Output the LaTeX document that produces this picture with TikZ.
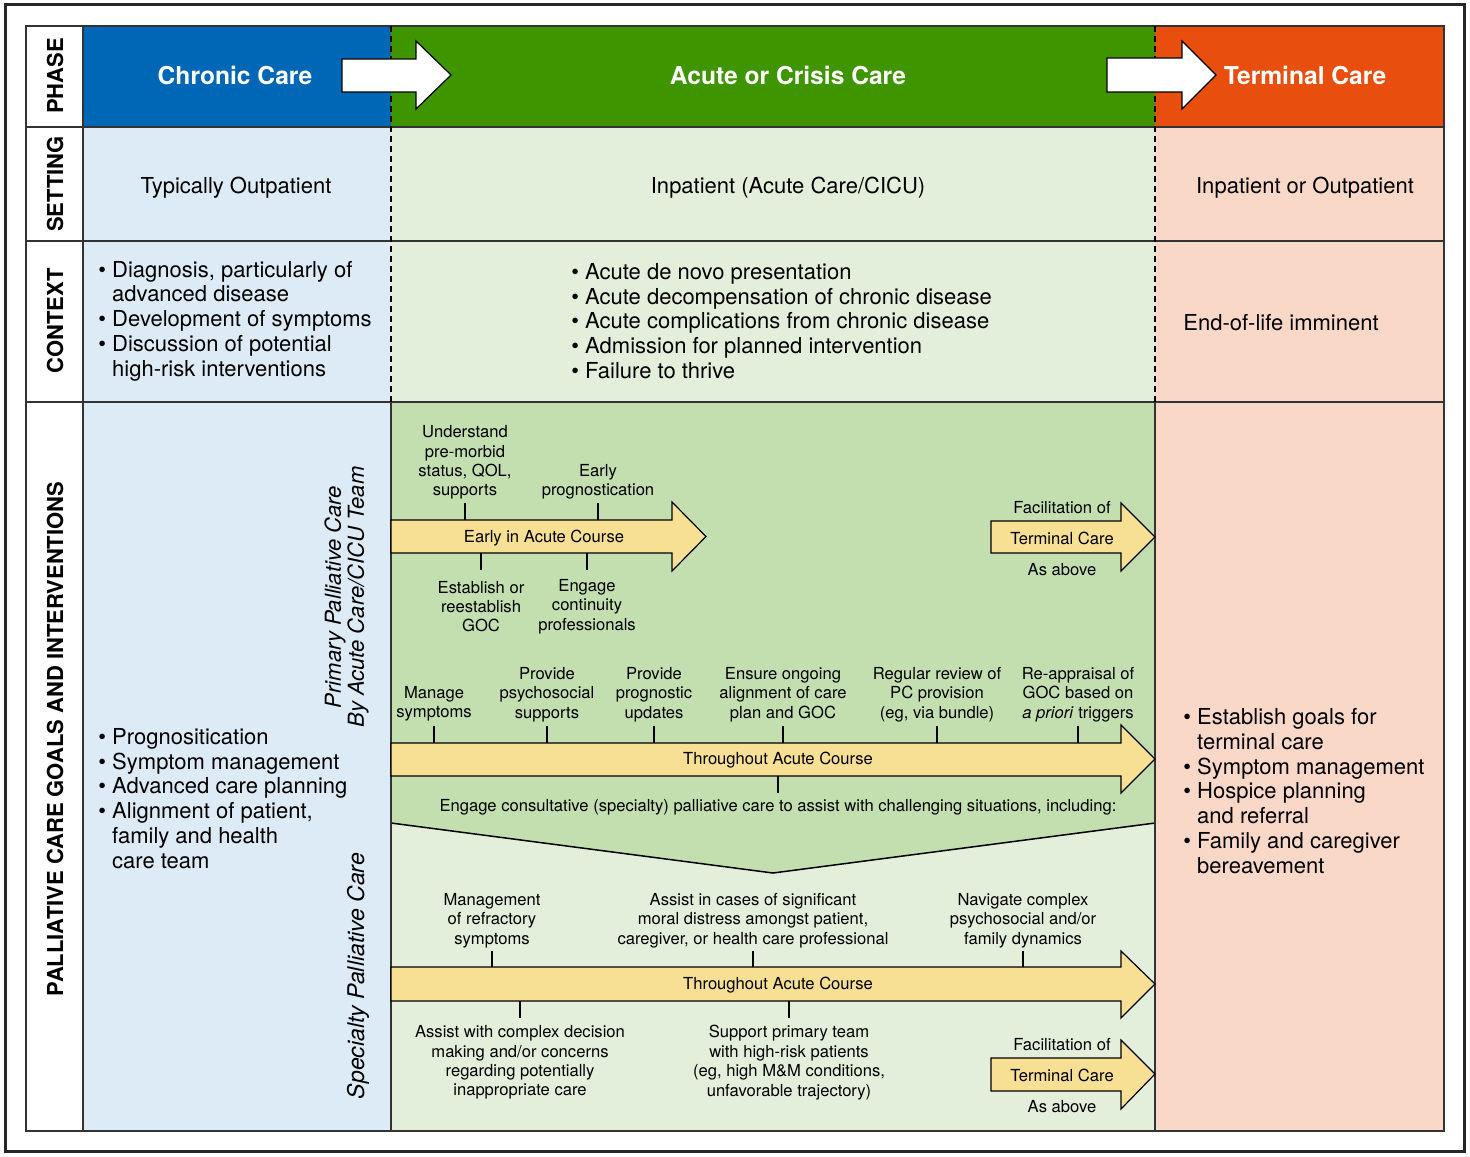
\documentclass[tikz,border=0pt]{standalone}
\usepackage{fontspec}
\setmainfont{TeX Gyre Heros}
\definecolor{cblue}{HTML}{0067B6}
\definecolor{cgreen}{HTML}{3F9500}
\definecolor{corange}{HTML}{E84E0E}
\definecolor{lblue}{HTML}{DDEBF6}
\definecolor{lgreen}{HTML}{E4EFDB}
\definecolor{lpeach}{HTML}{F9D8C8}
\definecolor{mgreen}{HTML}{C3DFB0}
\definecolor{yel}{HTML}{F7DF93}
\definecolor{linec}{HTML}{333333}
\tikzset{
  tbl/.style={draw=linec, line width=0.75pt},
  dsh/.style={draw=black, line width=0.6pt, dash pattern=on 3pt off 2pt},
  frame/.style={draw=black!85, line width=1.5pt},
  vline/.style={draw=black, line width=0.75pt},
  yarrow/.style={fill=yel, draw=black, line width=0.6pt, line join=miter},
  warrow/.style={fill=white, draw=black, line width=0.6pt, line join=miter},
  tick/.style={draw=black, line width=0.6pt},
  small/.style={font=\fontsize{8.3}{9.7}\selectfont, align=center, inner sep=0pt, yshift=-0.75pt},
  body/.style={font=\fontsize{11}{12.4}\selectfont, align=left, inner sep=0pt, anchor=west, yshift=-0.75pt},
  ctext/.style={font=\fontsize{11}{12.4}\selectfont, inner sep=0pt, yshift=-0.75pt},
  phase/.style={font=\fontsize{12.3}{14}\selectfont\bfseries, text=white, inner sep=0pt},
  rowlab/.style={font=\fontsize{11}{12}\selectfont\bfseries, rotate=90, inner sep=0pt},
  teamlab/.style={font=\fontsize{11}{11.5}\selectfont\itshape, rotate=90, align=center, inner sep=0pt}
}
\newcommand{\bul}{\textbullet\ }
\newcommand{\ind}{\phantom{\textbullet\ }}
\begin{document}
\begin{tikzpicture}[x=0.5pt,y=-0.5pt]
\useasboundingbox (0,0) rectangle (1470,1156);
\fill[white] (0,0) rectangle (1470,1156);
% cell fills
\fill[cblue] (83,26) rectangle (391,127);
\fill[cgreen] (391,26) rectangle (1155,127);
\fill[corange] (1155,26) rectangle (1444,127);
\fill[lblue] (83,127) rectangle (391,1131);
\fill[lgreen] (391,127) rectangle (1155,1131);
\fill[lpeach] (1155,127) rectangle (1444,1131);
\fill[mgreen] (391,402) -- (1155,402) -- (1155,823) -- (773,873) -- (391,823) -- cycle;
\draw[vline] (391,823) -- (773,873) -- (1155,823);
% table lines
\draw[tbl] (26,26) rectangle (1444,1131);
\draw[tbl] (83,26) -- (83,1131);
\foreach \yy in {127,241,402} \draw[tbl] (26,\yy) -- (1444,\yy);
\draw[tbl] (391,402) -- (391,1131);
\draw[tbl] (1155,402) -- (1155,1131);
\draw[dsh] (391,26) -- (391,402);
\draw[dsh] (1155,26) -- (1155,402);
\draw[frame] (5,5) rectangle (1464,1151);

% row labels
\node[rowlab] (lphase) at (55,76) {PHASE};
\node[rowlab] (lsetting) at (55,184) {SETTING};
\node[rowlab] (lcontext) at (55,321) {CONTEXT};
\node[rowlab] (linterv) at (55,739) {PALLIATIVE CARE GOALS AND INTERVENTIONS};

% phase row
\draw[warrow] (342,59) -- (416,59) -- (416,41) -- (451,75) -- (416,109) -- (416,92) -- (342,92) -- cycle;
\draw[warrow] (1107,58) -- (1182,58) -- (1182,41) -- (1216,75) -- (1182,109) -- (1182,92) -- (1107,92) -- cycle;
\node[phase] (pchronic) at (235,75) {Chronic Care};
\node[phase] (pacute) at (788,75) {Acute or Crisis Care};
\node[phase] (pterm) at (1305,75) {Terminal Care};

% setting row
\node[ctext] (schronic) at (236,186) {Typically Outpatient};
\node[ctext] (sacute) at (788,186) {Inpatient (Acute Care/CICU)};
\node[ctext] (sterm) at (1305,186) {Inpatient or Outpatient};

% context row
\node[body] (cchronic) at (98,319.5) {\bul Diagnosis, particularly of\\\ind advanced disease\\\bul Development of symptoms\\\bul Discussion of potential\\\ind high-risk interventions};
\node[body] (cacute) at (571,319.5) {\bul Acute de novo presentation\\\bul Acute decompensation of chronic disease\\\bul Acute complications from chronic disease\\\bul Admission for planned intervention\\\bul Failure to thrive};
\node[body] (cterm) at (1183,321) {End-of-life imminent};

% interventions: chronic and terminal
\node[body] (ichronic) at (98,797) {\bul Prognositication\\\bul Symptom management\\\bul Advanced care planning\\\bul Alignment of patient,\\\ind family and health\\\ind care team};
\node[body] (iterm) at (1183,789.5) {\bul Establish goals for\\\ind terminal care\\\bul Symptom management\\\bul Hospice planning\\\ind and referral\\\bul Family and caregiver\\\ind bereavement};

% team labels
\node[teamlab] (tprimary) at (346.5,597) {Primary Palliative Care\\By Acute Care/CICU Team};
\node[teamlab, font=\fontsize{11.5}{11.5}\selectfont\itshape] (tspecial) at (358,976) {Specialty Palliative Care};

% early arrow
\draw[yarrow] (391,520) -- (672,520) -- (672,502) -- (706,536.5) -- (672,571) -- (672,553) -- (391,553) -- cycle;
\node[small] (early) at (544,536.5) {Early in Acute Course};
\node[small] (e1) at (465,461) {Understand\\pre-morbid\\status, QOL,\\supports};
\node[small] (e2) at (598,480.5) {Early\\prognostication};
\node[small] (e3) at (481,605) {Establish or\\reestablish\\GOC};
\node[small] (e4) at (587,605) {Engage\\continuity\\professionals};
\draw[tick] (465,503) -- (465,520);
\draw[tick] (598,503) -- (598,520);
\draw[tick] (481,553) -- (481,570);
\draw[tick] (587,553) -- (587,570);

% facilitation top
\draw[yarrow] (991,521) -- (1121,521) -- (1121,503) -- (1155,537) -- (1121,571) -- (1121,553) -- (991,553) -- cycle;
\node[small] (f1a) at (1062,506) {Facilitation of};
\node[small] (f1b) at (1062,537) {Terminal Care};
\node[small] (f1c) at (1062,568) {As above};

% throughout 1
\draw[yarrow] (391,743) -- (1121,743) -- (1121,725) -- (1155,759) -- (1121,793) -- (1121,776) -- (391,776) -- cycle;
\node[small] (thr1) at (778,759) {Throughout Acute Course};
\node[small] (a1) at (434,702.5) {Manage\\symptoms};
\node[small] (a2) at (547,693) {Provide\\psychosocial\\supports};
\node[small] (a3) at (654,693) {Provide\\prognostic\\updates};
\node[small] (a4) at (783,693) {Ensure ongoing\\alignment of care\\plan and GOC};
\node[small] (a5) at (937,693) {Regular review of\\PC provision\\(eg, via bundle)};
\node[small] (a6) at (1078,693) {Re-appraisal of\\GOC based on\\\textit{a priori} triggers};
\foreach \xx in {434,547,654,783,937,1078} \draw[tick] (\xx,726) -- (\xx,743);
\draw[tick] (778,776) -- (778,793);
\node[small] (engage) at (778,806) {Engage consultative (specialty) palliative care to assist with challenging situations, including:};

% throughout 2
\draw[yarrow] (391,967) -- (1121,967) -- (1121,951) -- (1155,984) -- (1121,1018) -- (1121,1001) -- (391,1001) -- cycle;
\node[small] (thr2) at (778,984) {Throughout Acute Course};
\node[small] (b1) at (492,919) {Management\\of refractory\\symptoms};
\node[small] (b2) at (753,919) {Assist in cases of significant\\moral distress amongst patient,\\caregiver, or health care professional};
\node[small] (b3) at (1023,919) {Navigate complex\\psychosocial and/or\\family dynamics};
\node[small] (b4) at (520,1061) {Assist with complex decision\\making and/or concerns\\regarding potentially\\inappropriate care};
\node[small] (b5) at (789,1061) {Support primary team\\with high-risk patients\\(eg, high M\&M conditions,\\unfavorable trajectory)};
\foreach \xx in {492,753,1023} \draw[tick] (\xx,951) -- (\xx,967);
\foreach \xx in {520,789} \draw[tick] (\xx,1001) -- (\xx,1018);

% facilitation bottom
\draw[yarrow] (991,1058) -- (1121,1058) -- (1121,1040) -- (1155,1074) -- (1121,1109) -- (1121,1091) -- (991,1091) -- cycle;
\node[small] (f2a) at (1062,1043) {Facilitation of};
\node[small] (f2b) at (1062,1074) {Terminal Care};
\node[small] (f2c) at (1062,1105) {As above};
\end{tikzpicture}
\end{document}
